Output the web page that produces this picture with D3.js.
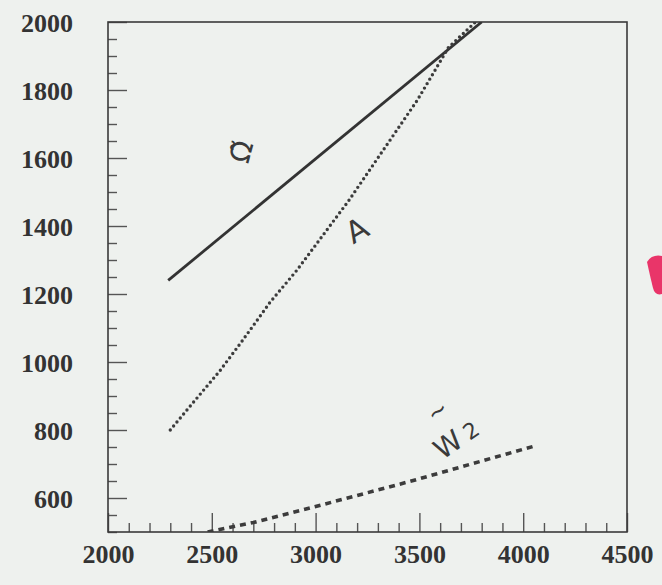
<!DOCTYPE html>
<html>
<head>
<meta charset="utf-8">
<script src="https://cdn.jsdelivr.net/npm/d3@7/dist/d3.min.js"></script>
<style>
body { margin: 0; background: #eef1ee; }
svg { display: block; }
</style>
</head>
<body>
<svg id="main" width="662" height="585"></svg>
<script>
// curves
var omegaX = [2290, 3800];
var omegaY = [1240, 2000];

var aX = [2300, 2430, 2540, 2650, 2780, 2910, 3160, 3490, 3640, 3770];
var aY = [800, 895, 975, 1065, 1175, 1270, 1475, 1770, 1925, 2000];

var w2X = [2480, 2700, 3000, 3450, 4050];
var w2Y = [500, 528, 575, 648, 752];

var xLabels = [2000, 2500, 3000, 3500, 4000, 4500];
var yLabels = [600, 800, 1000, 1200, 1400, 1600, 1800, 2000];

window.onload = function() {
var svg = d3.select("#main");
var left = 108, top = 22, right = 627, bottom = 532;

var x = d3.scaleLinear().domain([2000, 4500]).range([left, right]);
var y = d3.scaleLinear().domain([500, 2000]).range([bottom, top]);

var ink = "#333";

// ticks every 100 on x, every 50 on y, inward
var xt = d3.range(2000, 4501, 100);
var yt = d3.range(500, 2001, 50);

var xa = svg.append("g")
	.attr("transform", "translate(0," + bottom + ")")
	.call(d3.axisBottom(x)
		.tickValues(xt)
		.tickSizeInner(-9)
		.tickSizeOuter(0)
		.tickPadding(13)
		.tickFormat(function(d){ return xLabels.indexOf(d) >= 0 ? d : ""; }));

var ya = svg.append("g")
	.attr("transform", "translate(" + left + ",0)")
	.call(d3.axisLeft(y)
		.tickValues(yt)
		.tickSizeInner(-9)
		.tickSizeOuter(0)
		.tickPadding(35)
		.tickFormat(function(d){ return yLabels.indexOf(d) >= 0 ? d : ""; }));

[xa, ya].forEach(function(a){
	a.select(".domain").remove();
	a.selectAll(".tick line").attr("stroke", "#555").attr("stroke-width", 1.4);
	a.selectAll(".tick text")
		.attr("fill", ink)
		.style("font-family", "'Liberation Serif', serif")
		.style("font-weight", "bold")
		.style("font-size", "26px");
});
xa.selectAll(".tick line").filter(function(d){ return d % 500 == 0; }).attr("y2", -19);
ya.selectAll(".tick line").filter(function(d){ return d % 200 == 0; }).attr("x2", 19);
ya.selectAll(".tick text").attr("dy", "0.36em");

// frame
svg.append("rect")
	.attr("x", left).attr("y", top)
	.attr("width", right - left).attr("height", bottom - top)
	.attr("fill", "none").attr("stroke", "#3a3a3a").attr("stroke-width", 1.6);

svg.append("clipPath").attr("id", "clip")
	.append("rect").attr("x", left).attr("y", top)
	.attr("width", right - left).attr("height", bottom - top);

var line = d3.line().x(function(d){ return x(d[0]); }).y(function(d){ return y(d[1]); });
var zip = function(xs, ys) { return xs.map(function(v, i){ return [v, ys[i]]; }); };

var plot = svg.append("g").attr("clip-path", "url(#clip)");

plot.append("path")
	.attr("d", line(zip(omegaX, omegaY)))
	.attr("fill", "none").attr("stroke", ink).attr("stroke-width", 2.8);

plot.append("path")
	.attr("d", line(zip(aX, aY)))
	.attr("fill", "none").attr("stroke", "#3c3c3c").attr("stroke-width", 3.4)
	.attr("stroke-linecap", "round").attr("stroke-dasharray", "0 5.2");

plot.append("path")
	.attr("d", line(zip(w2X, w2Y)))
	.attr("fill", "none").attr("stroke", "#3c3c3c").attr("stroke-width", 3.6)
	.attr("stroke-dasharray", "6 5");

// handwritten labels
var note = function(tx, ty, rot, txt, size) {
	svg.append("text")
		.attr("transform", "translate(" + tx + "," + ty + ") rotate(" + rot + ")")
		.attr("text-anchor", "middle")
		.attr("dominant-baseline", "middle")
		.attr("fill", "#3a3a3a")
		.style("font-family", "'DejaVu Sans', sans-serif")
		.style("font-size", size + "px")
		.text(txt);
};
note(243, 152, -75, "\u03A9\u0303", 28);
note(358, 232, -30, "A", 30);
note(438, 412, -35, "~", 24);
note(449, 446, -35, "W", 28);
note(472, 432, -35, "2", 22);

// red mark on the right margin of the scan
svg.append("path")
	.attr("d", "M647,262 Q652,254 662,256 L662,294 Q655,296 653,288 Q650,276 647,262 Z")
	.attr("fill", "#e8205a").attr("opacity", 0.9);
};
</script>
</body>
</html>
